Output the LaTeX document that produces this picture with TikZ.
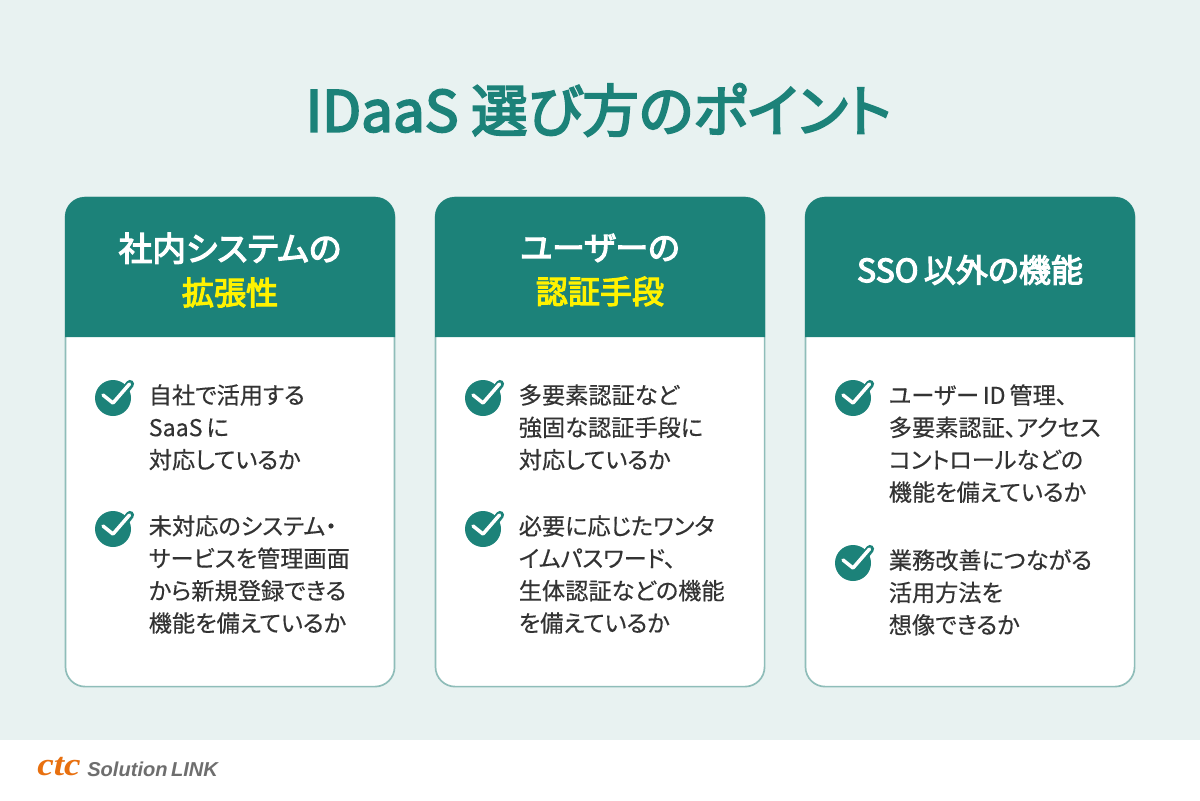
\documentclass[tikz,border=0pt]{standalone}
\usepackage{fontspec}
\setmainfont{Noto Sans CJK JP}[RawFeature=+palt,FakeBold=0.4]
\newfontfamily\headfont{Noto Sans CJK JP}[RawFeature=+palt,FakeBold=3.5]
\newfontfamily\logoserif{Liberation Serif}
\newfontfamily\logosans{Liberation Sans}
\usepackage{tikz}
\usetikzlibrary{positioning}
\definecolor{tealmain}{HTML}{1C8279}
\definecolor{tealpale}{HTML}{E8F2F1}
\definecolor{tealedge}{HTML}{8FBDB9}
\definecolor{inkdark}{HTML}{333333}
\definecolor{logoorange}{HTML}{E8700F}
\definecolor{logogray}{HTML}{6E6E6E}
\newcommand{\headmark}[1]{\textcolor{yellow}{\fontsize{22.8}{31}\selectfont #1}}
\tikzset{
  bodytext/.style={anchor=north west,inner sep=0pt,align=left,text=inkdark,
    font=\fontsize{16.5}{23}\selectfont},
  headtext/.style={anchor=center,inner sep=0pt,align=center,text=white,
    font=\headfont\fontsize{24}{31}\selectfont},
  cardbody/.style={anchor=north west,inner sep=0pt,outer sep=0pt,draw=tealedge,fill=white,line width=1.2pt,
    rounded corners=14pt,minimum width=8.225cm,minimum height=12.225cm},
  checkmark/.pic={
    \fill[tealmain] (0,0) circle (18);
    \draw[tealmain,line width=5.8pt,line cap=round] (2,5) -- (17,-14);
    \draw[white,line width=2.5pt,line cap=round,line join=round] (-10,-3) -- (0,5) -- (16.5,-14);
  }
}
\begin{document}
\begin{tikzpicture}[x=0.025cm,y=-0.025cm]
  \fill[tealpale] (0,0) rectangle (1200,740);
  \fill[white] (0,740) rectangle (1200,800);
  \node[inner sep=0pt,text=tealmain,font=\headfont\fontsize{40.2}{44}\selectfont] (title) at (598.5,110) {IDaaS 選び方のポイント};

  % cards
  \foreach \cx/\cname in {65/one,435/two,805/three} {
    \node[cardbody] (card\cname) at (\cx+0.5,197.5) {};
    \fill[tealmain] (\cx,337) [rounded corners=14pt] -- (\cx,197) -- (\cx+330,197) [sharp corners] -- (\cx+330,337) -- cycle;
    \pic at (\cx+48,398) {checkmark};
  }
  \pic at (113,529) {checkmark};
  \pic at (483,529) {checkmark};
  \pic at (853,563) {checkmark};

  % headers
  \node[headtext] (headone) at (230,270) {社内システムの\\\headmark{拡張性}};
  \node[headtext,font=\headfont\fontsize{23.4}{31}\selectfont] (headtwo) at (600,270) {ユーザーの\\\headmark{認証手段}};
  \node[headtext,font=\headfont\fontsize{22.8}{31}\selectfont] (headthree) at (970,270) {SSO\,以外の機能};

  % lists
  \node[bodytext] (itemoa) at (148.5,384) {自社で活用する\\SaaS\,に\\対応しているか};
  \node[bodytext] (itemob) at (148.5,515) {未対応のシステム・\\サービスを管理画面\\から新規登録できる\\機能を備えているか};
  \node[bodytext] (itemta) at (518.5,384) {多要素認証など\\強固な認証手段に\\対応しているか};
  \node[bodytext] (itemtb) at (518.5,515) {必要に応じたワンタ\\イムパスワード、\\生体認証などの機能\\を備えているか};
  \node[bodytext] (itemra) at (888.5,384) {ユーザー\,ID\,管理、\\多要素認証、アクセス\\コントロールなどの\\機能を備えているか};
  \node[bodytext] (itemrb) at (888.5,549) {業務改善につながる\\活用方法を\\想像できるか};

  % logo
  \node[inner sep=0pt,anchor=west,xscale=1.15,text=logoorange,font=\logoserif\fontsize{23}{23}\selectfont\bfseries\itshape] (logoctc) at (37,767) {ctc};
  \node[inner sep=0pt,anchor=west,text=logogray,font=\logosans\fontsize{14.3}{15}\selectfont\bfseries\itshape] (logotext) at (87,769) {Solution\,LINK};
\end{tikzpicture}
\end{document}
